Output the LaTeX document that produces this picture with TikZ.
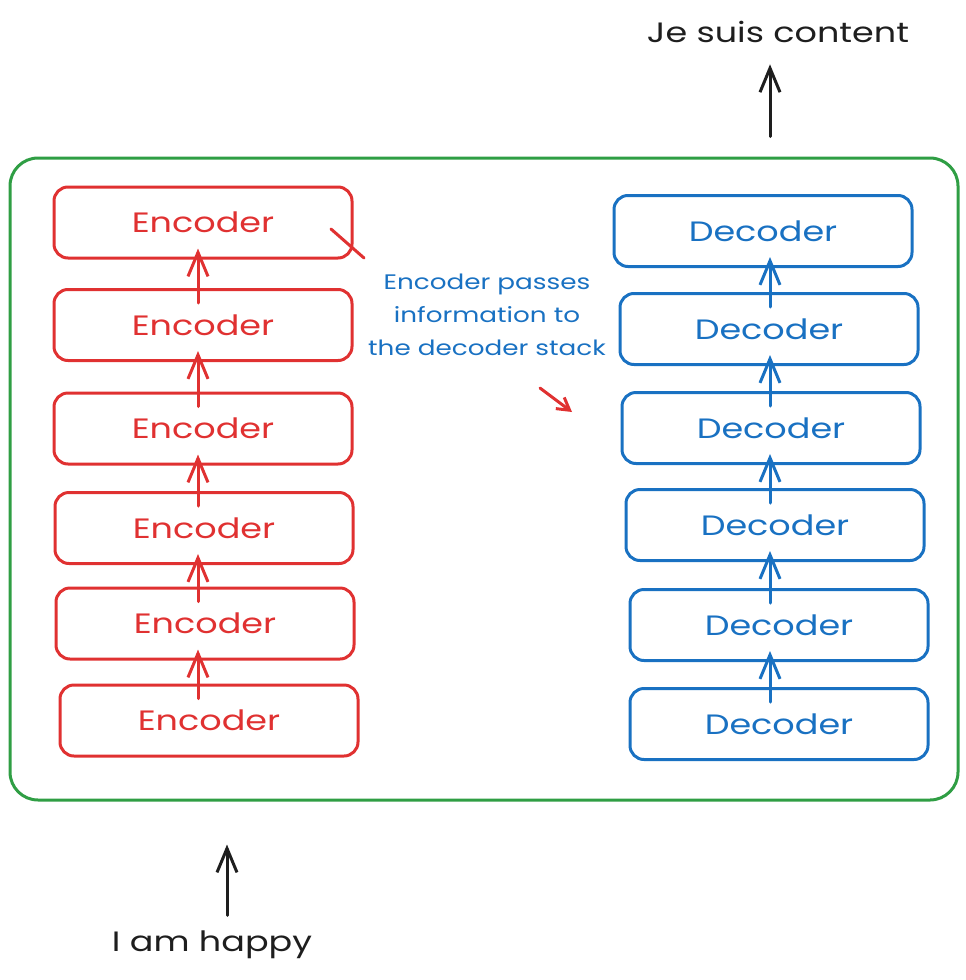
\documentclass[tikz,border=0pt]{standalone}
\usepackage{fontspec}
\setmainfont[FakeStretch=1.25]{Poppins}
\usepackage{tikz}
\usetikzlibrary{arrows.meta, positioning}
\definecolor{encred}{HTML}{E03131}
\definecolor{decblue}{HTML}{1971C2}
\definecolor{modelgreen}{HTML}{2F9E44}
\definecolor{inkblack}{HTML}{1E1E1E}
\tikzset{
	block/.style={draw, rounded corners=14pt, line width=3pt, minimum width=298pt, minimum height=71pt, font=\fontsize{28}{32}\selectfont},
	encblock/.style={block, encred, text=encred},
	decblock/.style={block, decblue, text=decblue},
	flow/.style={line width=3pt, line cap=round, -{Straight Barb[length=24pt, width=20pt, line width=3pt]}},
}

\begin{document}
\begin{tikzpicture}[x=1pt, y=-1pt]
	\useasboundingbox (0,0) rectangle (966,980);
	\node[draw=modelgreen, line width=3pt, rounded corners=28pt, minimum width=948pt, minimum height=642pt] (model) at (484,479) {};

	\node[encblock] (enc1) at (203,222.5) {Encoder};
	\node[encblock] (enc2) at (203,325) {Encoder};
	\node[encblock] (enc3) at (203,428.5) {Encoder};
	\node[encblock] (enc4) at (204,528) {Encoder};
	\node[encblock] (enc5) at (205,623.5) {Encoder};
	\node[encblock] (enc6) at (209,720.5) {Encoder};

	\node[decblock] (dec1) at (763,231) {Decoder};
	\node[decblock] (dec2) at (769,329) {Decoder};
	\node[decblock] (dec3) at (771,428) {Decoder};
	\node[decblock] (dec4) at (775,525) {Decoder};
	\node[decblock] (dec5) at (779,625) {Decoder};
	\node[decblock] (dec6) at (779,724) {Decoder};

	\coordinate (enc axis) at (198,0);
	\coordinate (dec axis) at (770,0);
	\foreach \i [count=\j from 2] in {1,...,5} {
		\draw[flow, encred] ([yshift=-15pt]enc\j.north -| enc axis) -- ([yshift=11pt]enc\i.south -| enc axis);
		\draw[flow, decblue] ([yshift=-15pt]dec\j.north -| dec axis) -- ([yshift=11pt]dec\i.south -| dec axis);
	}

	\node[inkblack, font=\fontsize{28}{32}\selectfont] (output) at (778,32) {Je suis content};
	\node[inkblack, font=\fontsize{28}{32}\selectfont] (input) at (212,945) {I am happy};
	\coordinate (out axis) at (770,0);
	\coordinate (in axis) at (227,0);
	\draw[flow, inkblack] ([yshift=20pt]model.north -| out axis) -- ([yshift=-18pt]output.south -| out axis);
	\draw[flow, inkblack] ([yshift=12pt]input.north -| in axis) -- ([yshift=-43pt]model.south -| in axis);

	\node[decblue, align=center, font=\fontsize{21}{33}\selectfont] (note) at (487,315) {Encoder passes\\information to\\the decoder stack};
	\coordinate (tick a) at (331,229);
	\coordinate (tick b) at (364,258);
	\coordinate (hint a) at (540,388);
	\coordinate (hint b) at (572,412);
	\draw[encred, line width=3pt, line cap=round] (tick a) -- (tick b);
	\draw[encred, line width=3pt, line cap=round, -{Straight Barb[length=12pt, width=14pt, line width=3pt]}] (hint a) -- (hint b);
\end{tikzpicture}
\end{document}
